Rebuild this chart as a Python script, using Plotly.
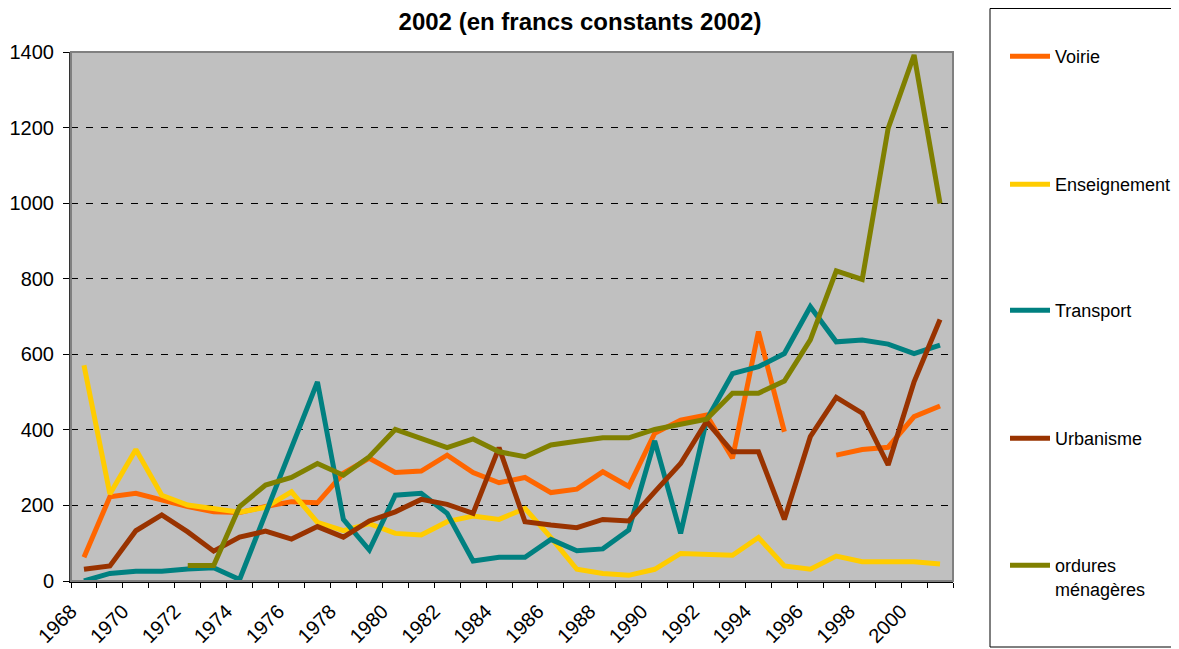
import plotly.graph_objects as go

years = list(range(1968, 2002))
tick_years = list(range(1968, 2001, 2))

voirie = [63, 223, 232, 214, 197, 183, 181, 197, 210, 207, 285, 325,
          287, 291, 333, 287, 260, 274, 234, 243, 289, 250, 391,
          426, 439, 325, 660, 395, None, 333, 348, 354, 435, 463]
enseignement = [571, 230, 348, 227, 201, 190, 182, 195, 236, 155, 133, 152,
                126, 122, 157, 172, 163, 192, 115, 31, 20, 15, 31,
                73, 69, 68, 115, 40, 31, 66, 51, 51, 51, 45]
transport = [0, 20, 26, 26, 32, 35, 4, 179, 351, 527, 163, 82,
             227, 232, 179, 53, 63, 63, 110, 80, 85, 135, 371,
             126, 426, 549, 567, 602, 726, 633, 638, 627, 602, 624]
urbanisme = [31, 40, 133, 175, 130, 79, 116, 132, 111, 144, 116, 159,
             183, 216, 203, 179, 353, 157, 148, 141, 163, 159, 236,
             311, 422, 342, 342, 163, 382, 486, 444, 307, 527, 692]
ordures = [None, None, None, None, 41, 41, 197, 254, 274, 311, 280, 329,
           401, 376, 353, 376, 342, 329, 360, 370, 379, 379, 401,
           415, 428, 497, 497, 529, 638, 821, 798, 1198, 1392, 999]

series = [
    ("Voirie", voirie, "#FF6600"),
    ("Enseignement", enseignement, "#FFCC00"),
    ("Transport", transport, "#008080"),
    ("Urbanisme", urbanisme, "#993300"),
    ("ordures<br>ménagères", ordures, "#808000"),
]
legend_rows_px = [57, 185, 311, 439, 566]

FONT = "Liberation Sans, Arial, sans-serif"
W, H = 1179, 649
OFF = 8  # page body margin offset
# plot area in page pixels (reference)
PL, PR, PT, PB = 71, 953, 52, 581
L, R, T, B = PL - OFF, PR - OFF, PT - OFF, PB - OFF


def px_x(page_px):
    return (page_px - OFF - L) / (R - L)


def px_y(page_py):
    return (B - (page_py - OFF)) / (B - T)


fig = go.Figure()
legend_layouts = {}
for i, (name, vals, col) in enumerate(series):
    key = "legend" if i == 0 else f"legend{i + 1}"
    fig.add_trace(go.Scatter(
        x=years, y=vals, name=name, mode="lines",
        line=dict(color=col, width=5),
        connectgaps=False, legend=key,
    ))
    legend_layouts[key] = dict(
        x=px_x(1005), xanchor="left",
        y=px_y(legend_rows_px[i] - 19), yanchor="top",
        bgcolor="rgba(0,0,0,0)", borderwidth=0,
        font=dict(size=18, family=FONT, color="black"),
        valign="top", itemwidth=40,
    )

# legend box
fig.add_shape(type="rect", xref="paper", yref="paper",
              x0=px_x(990), x1=px_x(1176), y0=px_y(647), y1=px_y(8.5),
              line=dict(color="black", width=1), fillcolor="white", layer="below")
# plot border (top/right gray)
fig.add_shape(type="rect", xref="paper", yref="paper",
              x0=0, x1=1, y0=0, y1=1,
              line=dict(color="#808080", width=2), layer="above")

fig.update_layout(
    width=W, height=H,
    margin=dict(l=L, r=W - R, t=T, b=H - B, pad=0, autoexpand=False),
    paper_bgcolor="white",
    plot_bgcolor="#C0C0C0",
    font=dict(family=FONT, color="black"),
    title=dict(text="<b>2002 (en francs constants 2002)</b>",
               x=(580 - OFF) / W, xanchor="center", xref="container",
               y=1 - 5 / H, yanchor="top", yref="container",
               pad=dict(t=0, b=0),
               font=dict(size=24, family=FONT, color="black")),
    showlegend=True,
    **legend_layouts,
)

fig.update_xaxes(
    automargin=False,
    range=[1967.5, 2001.5],
    tickmode="array",
    tickvals=[y - 0.5 for y in tick_years],
    ticktext=[str(y) for y in tick_years],
    tickangle=-45,
    ticks="outside", ticklen=5, tickcolor="black", tickwidth=1,
    minor=dict(tickmode="array", tickvals=[y - 0.5 for y in years] + [2001.5],
               ticks="outside", ticklen=5, tickcolor="black", tickwidth=1,
               showgrid=False),
    showgrid=False, zeroline=False,
    showline=True, linecolor="black", linewidth=1.5,
    tickfont=dict(size=20, family=FONT, color="black"),
    ticklabelstandoff=4,
)
fig.update_yaxes(
    automargin=False,
    range=[0, 1400], dtick=200, tick0=0,
    ticks="outside", ticklen=6, tickcolor="black", tickwidth=1,
    showgrid=True, gridcolor="black", gridwidth=1, griddash="7px,8px",
    zeroline=False,
    showline=True, linecolor="#333333", linewidth=2,
    tickfont=dict(size=20, family=FONT, color="black"),
    ticklabelstandoff=5,
)

fig.write_html("out.html")
